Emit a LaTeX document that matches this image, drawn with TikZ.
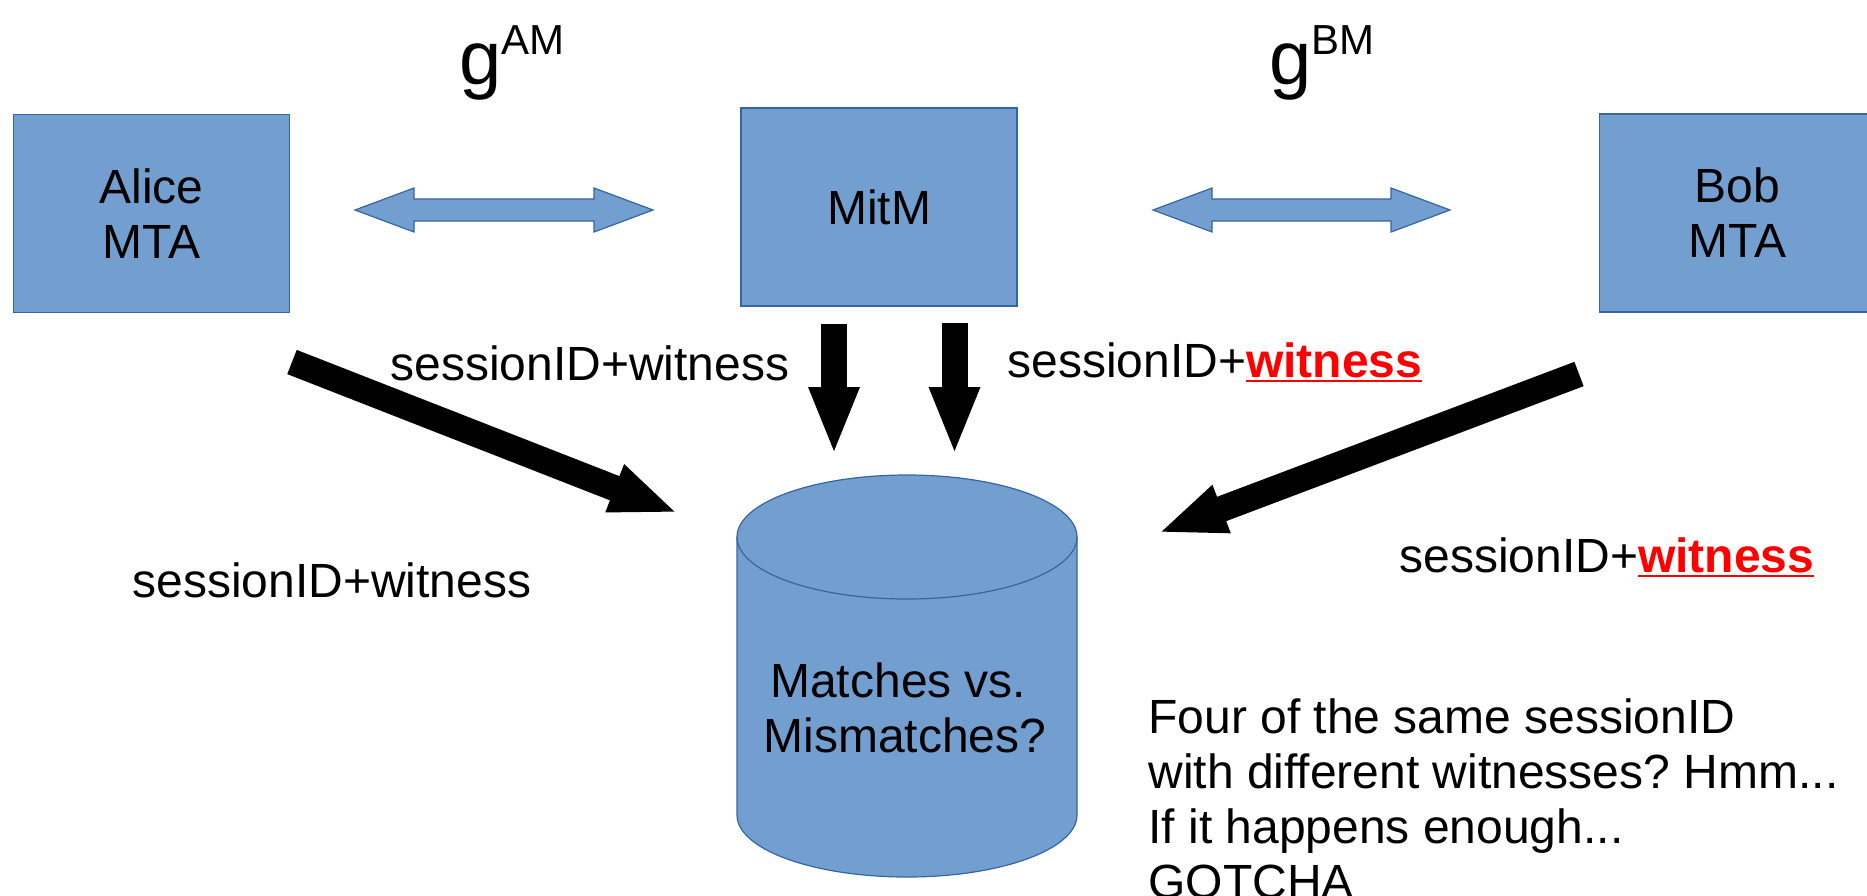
\documentclass[tikz,border=0pt]{standalone}
\usepackage{fontspec}
\setmainfont{Liberation Sans}
\frenchspacing
\usetikzlibrary{arrows.meta}
\definecolor{boxfill}{HTML}{729FCF}
\definecolor{boxline}{HTML}{3465A4}
\tikzset{
	mta/.style={draw=boxline, line width=0.6pt, fill=boxfill, minimum width=138pt, minimum height=99pt, align=center, inner sep=0pt, font=\fontsize{24}{27.5}\selectfont},
	msgtext/.style={anchor=base west, inner sep=0pt, font=\fontsize{24}{27.5}\selectfont},
	fatarrow/.style={line width=13pt, -{Triangle[width=23pt,length=34pt]}},
}
\def\dblarrow(#1,#2,#3){\draw[draw=boxline, line width=0.6pt, fill=boxfill] (#1,#3) -- ++(59,-22) -- ++(0,11) -- ({#2-59},{#3-11}) -- ++(0,-11) -- (#2,#3) -- ++(-59,22) -- ++(0,-11) -- ({#1+59},{#3+11}) -- ++(0,11) -- cycle;}
\newcommand{\ulred}[1]{\setbox0\hbox{\bfseries #1}\textcolor{red}{\rlap{\rule[-2.5pt]{\wd0}{1pt}}\box0}}
\newcommand{\gexp}[1]{{\fontsize{38}{40}\selectfont g\raisebox{15pt}{\fontsize{21}{24}\selectfont #1}}}

\begin{document}
\begin{tikzpicture}[x=0.5pt, y=-0.5pt]
			%%%%% START %%%%%
			\useasboundingbox (0,0) rectangle (1867,895);
			\clip (0,0) rectangle (1867,895);
			
			\node[mta] (alice) at (151.5,213.5) {Alice\\MTA};
			\node[mta] (mitm) at (879,207) {MitM};
			\node[mta] (bob) at (1737.5,213) {Bob\\MTA};
			
			\node[anchor=base west, inner sep=0pt] (gAM) at (459,84) {\gexp{AM}};
			\node[anchor=base west, inner sep=0pt] (gBM) at (1269,84) {\gexp{BM}};
			
			\dblarrow(355,653,210)
			\dblarrow(1153,1450,210)
			
			% database
			\draw[draw=boxline, line width=0.6pt, fill=boxfill] (737,537) -- (737,815) arc[start angle=180, end angle=0, x radius=170, y radius=62] -- (1077,537) arc[start angle=0, end angle=-180, x radius=170, y radius=62] -- cycle;
			\draw[draw=boxline, line width=0.6pt] (737,537) arc[start angle=180, end angle=0, x radius=170, y radius=62];
			\node[align=center, inner sep=0pt, font=\fontsize{24}{27.5}\selectfont] (matchdb) at (905,707.5) {Matches vs.\hspace*{0.278em}\\Mismatches?};
			
			\coordinate (aliceOut) at (292,362);
			\coordinate (dbLeft) at (678,513);
			\coordinate (mitmOutA) at (834,324);
			\coordinate (dbTopA) at (834,455);
			\coordinate (mitmOutB) at (954.5,323);
			\coordinate (dbTopB) at (954.5,455);
			\coordinate (bobOut) at (1579,374);
			\coordinate (dbRight) at (1158,533);
			
			\draw[fatarrow] (aliceOut) -- (dbLeft);
			\draw[fatarrow] (mitmOutA) -- (dbTopA);
			\draw[fatarrow] (mitmOutB) -- (dbTopB);
			\draw[fatarrow] (bobOut) -- (dbRight);
			
			\node[msgtext] (msgAM) at (390,380) {sessionID+witness};
			\node[msgtext] (msgMB) at (1007,377) {sessionID+\ulred{witness}};
			\node[msgtext] (msgA) at (132,597) {sessionID+witness};
			\node[msgtext] (msgB) at (1399,572) {sessionID+\ulred{witness}};
			
			% base of the note is its last line
			\node[msgtext, align=left] (note) at (1148,898) {Four of the same sessionID\\with different witnesses? Hmm...\\If it happens enough...\\GOTCHA};
			%%%%% END %%%%%
\end{tikzpicture}
\end{document}
